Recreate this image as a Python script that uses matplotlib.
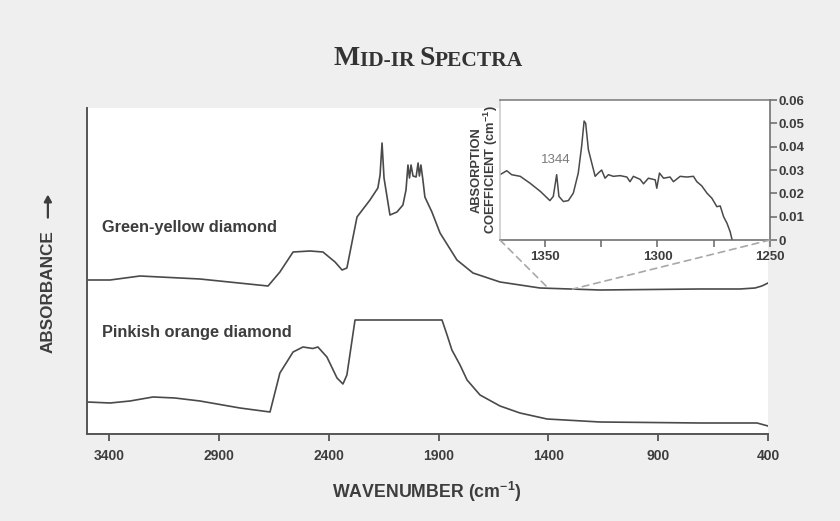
import numpy as np
import matplotlib
matplotlib.use("Agg")
import matplotlib.pyplot as plt
from matplotlib.patches import ConnectionPatch, FancyArrowPatch
from matplotlib.ticker import FixedLocator, FuncFormatter

# --- spectra (wavenumber in cm-1, absorbance in arbitrary units) ---
gy_wn = [3500, 3395, 3259, 2986, 2676, 2622, 2562, 2485, 2426, 2371, 2339, 2317,
         2271, 2212, 2176, 2166, 2157, 2148, 2121, 2089, 2062, 2048, 2039, 2032,
         2025, 2016, 2002, 1993, 1987, 1980, 1971, 1962, 1930, 1893, 1816, 1743,
         1620, 1438, 1165, 710, 528, 459, 428, 400]
gy_abs = [1.54, 1.54, 1.58, 1.55, 1.48, 1.62, 1.82, 1.83, 1.82, 1.72, 1.64, 1.66,
          2.17, 2.34, 2.46, 2.59, 2.91, 2.56, 2.19, 2.22, 2.29, 2.44, 2.69, 2.56,
          2.69, 2.58, 2.57, 2.71, 2.58, 2.69, 2.54, 2.37, 2.22, 2.01, 1.74, 1.61,
          1.52, 1.46, 1.44, 1.45, 1.45, 1.46, 1.48, 1.51]

po_wn = [3500, 3395, 3304, 3200, 3100, 2986, 2804, 2667, 2622, 2562, 2517, 2472,
         2449, 2408, 2362, 2335, 2317, 2280, 1884, 1861, 1839, 1802, 1770, 1711,
         1620, 1529, 1406, 1165, 710, 450, 400]
po_abs = [0.32, 0.31, 0.33, 0.37, 0.36, 0.33, 0.26, 0.22, 0.61, 0.82, 0.87, 0.855,
          0.87, 0.77, 0.56, 0.50, 0.59, 1.14, 1.14, 0.99, 0.84, 0.69, 0.54, 0.39,
          0.28, 0.21, 0.15, 0.12, 0.11, 0.11, 0.08]

# --- inset: absorption coefficient of the green-yellow diamond ---
ins_wn = [1370, 1367, 1364.8, 1361, 1356.7, 1352, 1347.8, 1346.3, 1344.8, 1343.8,
          1341.8, 1339.6, 1337.4, 1335.2, 1333.7, 1332.6, 1331.9, 1330.7, 1329.2,
          1327.7, 1326.3, 1324.8, 1323.3, 1321.8, 1319.6, 1316.6, 1313.6, 1312.2,
          1310.7, 1307.7, 1306.2, 1304, 1301, 1300.3, 1299.1, 1297.3, 1294.4,
          1292.9, 1289.9, 1287, 1284, 1282.5, 1280.3, 1278, 1275.8, 1273.6,
          1272.1, 1270.6, 1269.1, 1267.7, 1266.8]
ins_coef = [0.028, 0.0297, 0.028, 0.0273, 0.0244, 0.0208, 0.0169, 0.0187, 0.028,
            0.0187, 0.0165, 0.0169, 0.0201, 0.0287, 0.0402, 0.051, 0.050, 0.0387,
            0.033, 0.0273, 0.0287, 0.030, 0.0265, 0.028, 0.0273, 0.0276, 0.027,
            0.025, 0.0273, 0.026, 0.0241, 0.0265, 0.0258, 0.0222, 0.0287, 0.0265,
            0.027, 0.025, 0.0273, 0.027, 0.0273, 0.025, 0.0232, 0.0201, 0.0179,
            0.0143, 0.0146, 0.010, 0.0072, 0.0036, 0.0]

main_ticks = [3400, 2900, 2400, 1900, 1400, 900, 400]
inset_ticks = [1350, 1300, 1250]
inset_minor = [1325, 1275]
inset_yticks = [0, 0.01, 0.02, 0.03, 0.04, 0.05, 0.06]

SANS = dict(family=["Liberation Sans", "DejaVu Sans"])
INK = "#3d3d3d"
LINE = "#4a4a4a"

fig = plt.figure(figsize=(8.4, 5.21), dpi=100, facecolor="#efefef")

ax = fig.add_axes([0.1036, 0.167, 0.8107, 0.6257])
ax.set_facecolor("white")
ax.plot(gy_wn, gy_abs, color=LINE, lw=1.2)
ax.plot(po_wn, po_abs, color=LINE, lw=1.2)
ax.set_xlim(3500, 400)
ax.set_ylim(0, 3.26)
ax.set_yticks([])
ax.set_xticks(main_ticks)
for lbl in ax.set_xticklabels([str(t) for t in main_ticks]):
    lbl.set(fontsize=10, fontweight="bold", color=INK, **SANS)
ax.tick_params(axis="x", direction="out", length=5, width=1.3, color="#555555", pad=6)
for side in ("top", "right"):
    ax.spines[side].set_visible(False)
for side in ("left", "bottom"):
    ax.spines[side].set_color("#555555")
    ax.spines[side].set_linewidth(1.4)

ax.text(3430, 2.06, "Green-yellow diamond", fontsize=11.8, fontweight="bold",
        color=INK, va="center", ha="left", **SANS)
ax.text(3430, 1.01, "Pinkish orange diamond", fontsize=11.8, fontweight="bold",
        color=INK, va="center", ha="left", **SANS)

# axis titles, with the up arrow drawn as a real arrow
fig.text(0.057, 0.4395, "ABSORBANCE", rotation=90, fontsize=12.3,
         fontweight="bold", color=INK, ha="center", va="center", **SANS)
fig.add_artist(FancyArrowPatch(
    (0.057, 0.577), (0.057, 0.632), transform=fig.transFigure,
    arrowstyle="-|>,head_length=4,head_width=2.2", color=INK, lw=1.6))
fig.text(0.508, 0.056, "WAVENUMBER (cm$^{\\mathregular{-1}}$)", fontsize=12.8,
         fontweight="bold", color=INK, ha="center", va="center", **SANS)

# title in small caps
serif = dict(family="Liberation Serif", fontweight="bold", color="#333333")
prev = fig.text(0.397, 0.875, "M", fontsize=20, va="baseline", ha="left", **serif)
for piece, size in [("ID-IR ", 15.5), ("S", 20), ("PECTRA", 15.5)]:
    prev = ax.annotate(piece, xy=(1, 0), xycoords=prev, fontsize=size,
                       va="bottom", ha="left", annotation_clip=False, **serif)

# inset
ins = fig.add_axes([0.5952, 0.5393, 0.3214, 0.2687])
ins.set_facecolor("white")
ins.plot(ins_wn, ins_coef, color=LINE, lw=1.1)
ins.set_xlim(1370, 1250)
ins.set_ylim(0, 0.06)
ins.xaxis.set_major_locator(FixedLocator(inset_ticks))
ins.xaxis.set_minor_locator(FixedLocator(inset_minor))
ins.yaxis.set_major_locator(FixedLocator(inset_yticks))
ins.yaxis.set_major_formatter(FuncFormatter(lambda v, p: "0" if v == 0 else f"{v:.2f}"))
ins.yaxis.tick_right()
ins.tick_params(which="both", direction="out", length=5, width=1.1, color="#666666",
                labelsize=9.5, labelcolor=INK, pad=1)
ins.tick_params(axis="x", pad=3)
for lbl in ins.get_xticklabels() + ins.get_yticklabels():
    lbl.set(fontweight="bold", **SANS)
for side, c in [("left", "#c8c8c8"), ("top", "#777777"), ("right", "#666666"), ("bottom", "#666666")]:
    ins.spines[side].set_color(c)
    ins.spines[side].set_linewidth(1.1)
ins.set_ylabel("ABSORPTION\nCOEFFICIENT (cm$^{\\mathregular{-1}}$)", fontsize=9.3,
               fontweight="bold", color=INK, linespacing=0.95, labelpad=0, **SANS)
ins.text(1345, 0.0345, "1344", fontsize=9.5, color="#7a7a7a", ha="center",
         va="center", **SANS)

# dashed guides from the inset down to the spectrum
gy_r = np.array(gy_wn[::-1], dtype=float)
ga_r = np.array(gy_abs[::-1], dtype=float)
for xa, wn in [(0, 1400), (1, 1290)]:
    con = ConnectionPatch(xyA=(xa, 0), coordsA=ins.transAxes,
                          xyB=(wn, np.interp(wn, gy_r, ga_r)), coordsB=ax.transData,
                          color="#a8a8a8", lw=1.2, ls=(0, (4, 3)))
    fig.add_artist(con)

fig.savefig("out.png", dpi=100, facecolor=fig.get_facecolor())
